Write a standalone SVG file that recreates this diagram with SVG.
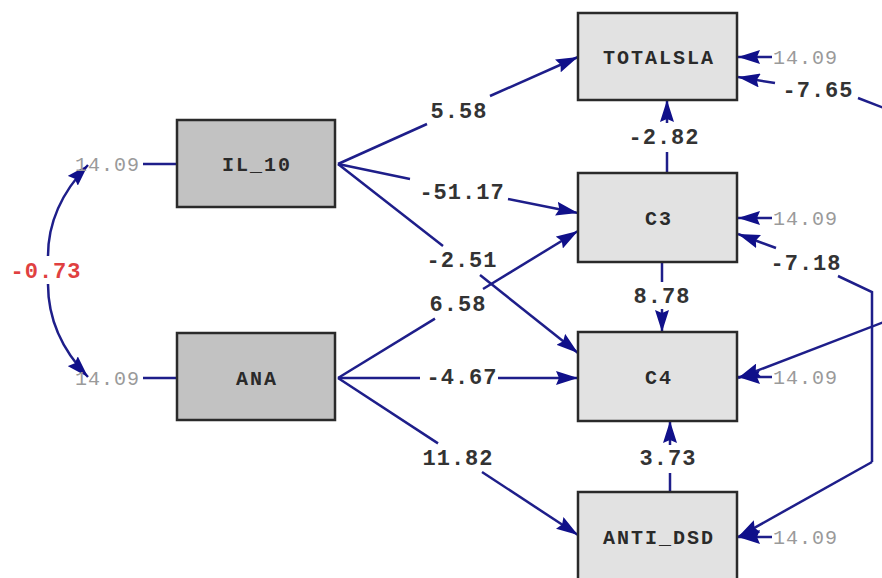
<svg xmlns="http://www.w3.org/2000/svg" width="882" height="578" viewBox="0 0 882 578">
<style>
.ln{fill:none;stroke:#1e1e8a;stroke-width:2.5}
.arr{marker-end:url(#ah)}
.bx{stroke:#2a2a2a;stroke-width:2.5}
.exo{fill:#c2c2c2}
.endo{fill:#e2e2e2}
.nl{font-family:"Liberation Mono","Courier New",monospace;font-weight:bold;font-size:20px;letter-spacing:2px;fill:#2a2a2a;text-anchor:middle}
.pl{font-family:"Liberation Mono","Courier New",monospace;font-weight:bold;font-size:22px;letter-spacing:1px;fill:#333;text-anchor:middle}
.ev{font-family:"Liberation Mono","Courier New",monospace;font-size:20px;letter-spacing:1px;fill:#9a9a9a}
.red{fill:#e04040}
</style>
<defs>
<marker id="ah" viewBox="0 0 22 14" refX="22" refY="7" markerWidth="22" markerHeight="14" markerUnits="userSpaceOnUse" orient="auto">
<path d="M0,0 L22,7 L0,14 L3,7 Z" fill="#10108a"/>
</marker>
</defs>
<rect width="882" height="578" fill="#fff"/>
<g id="connectors">
<line class="ln" x1="143" y1="164" x2="177" y2="164"/>
<line class="ln" x1="143" y1="378" x2="177" y2="378"/>
<path class="ln arr" d="M48 256 C48 222 62 192 88 165"/>
<path class="ln arr" d="M48 284 C48 318 62 350 88 377"/>
<line class="ln" x1="338" y1="164" x2="427" y2="124"/>
<line class="ln arr" x1="490" y1="96" x2="578" y2="57"/>
<line class="ln" x1="338" y1="164" x2="410" y2="179"/>
<line class="ln arr" x1="508" y1="199" x2="578" y2="213"/>
<line class="ln" x1="338" y1="164" x2="443" y2="246"/>
<line class="ln arr" x1="480" y1="275" x2="578" y2="353"/>
<line class="ln" x1="338" y1="378" x2="435" y2="318.6"/>
<line class="ln arr" x1="483" y1="289" x2="578" y2="231"/>
<line class="ln" x1="338" y1="378" x2="420" y2="378"/>
<line class="ln arr" x1="498" y1="378" x2="578" y2="378"/>
<line class="ln" x1="338" y1="378" x2="438" y2="443.4"/>
<line class="ln arr" x1="482" y1="472" x2="578" y2="535"/>
<line class="ln" x1="667" y1="173" x2="667" y2="152"/>
<line class="ln arr" x1="667" y1="123" x2="667" y2="100"/>
<line class="ln" x1="662" y1="262" x2="662" y2="282"/>
<line class="ln arr" x1="662" y1="309" x2="662" y2="332"/>
<line class="ln" x1="670" y1="492" x2="670" y2="473"/>
<line class="ln arr" x1="670" y1="445" x2="670" y2="421"/>
<line class="ln arr" x1="772" y1="57" x2="738" y2="57"/>
<line class="ln arr" x1="772" y1="218" x2="738" y2="218"/>
<line class="ln arr" x1="772" y1="377" x2="738" y2="377"/>
<line class="ln arr" x1="772" y1="537" x2="738" y2="537"/>
<line class="ln arr" x1="775" y1="83" x2="738" y2="77"/>
<line class="ln" x1="858" y1="98" x2="884" y2="108"/>
<line class="ln arr" x1="776" y1="248" x2="738" y2="234"/>
<polyline class="ln" points="838,276 872,292 872,462"/>
<line class="ln arr" x1="872" y1="462" x2="738" y2="537"/>
<line class="ln arr" x1="884" y1="322" x2="738" y2="378"/>
</g>
<g id="node-IL_10">
<rect class="bx exo" x="177" y="120" width="158" height="87"/>
<text class="nl" x="257" y="171">IL_10</text>
<text class="ev" x="75" y="171">14.09</text>
</g>
<g id="node-ANA">
<rect class="bx exo" x="177" y="333" width="158" height="87"/>
<text class="nl" x="257" y="385">ANA</text>
<text class="ev" x="75" y="385">14.09</text>
</g>
<g id="node-TOTALSLA">
<rect class="bx endo" x="578" y="13" width="159" height="87"/>
<text class="nl" x="659" y="64">TOTALSLA</text>
<text class="ev" x="773" y="64">14.09</text>
</g>
<g id="node-C3">
<rect class="bx endo" x="578" y="173" width="159" height="89"/>
<text class="nl" x="659" y="225">C3</text>
<text class="ev" x="773" y="225">14.09</text>
</g>
<g id="node-C4">
<rect class="bx endo" x="578" y="332" width="159" height="89"/>
<text class="nl" x="659" y="384">C4</text>
<text class="ev" x="773" y="384">14.09</text>
</g>
<g id="node-ANTI_DSD">
<rect class="bx endo" x="578" y="492" width="159" height="89"/>
<text class="nl" x="659" y="544">ANTI_DSD</text>
<text class="ev" x="773" y="544">14.09</text>
</g>
<g id="labels">
<text class="pl red" x="46" y="278">-0.73</text>
<text class="pl" x="459" y="118">5.58</text>
<text class="pl" x="462" y="199">-51.17</text>
<text class="pl" x="462" y="267">-2.51</text>
<text class="pl" x="458" y="311">6.58</text>
<text class="pl" x="462" y="384">-4.67</text>
<text class="pl" x="458" y="465">11.82</text>
<text class="pl" x="664" y="144">-2.82</text>
<text class="pl" x="662" y="303">8.78</text>
<text class="pl" x="668" y="465">3.73</text>
<text class="pl" x="818" y="97">-7.65</text>
<text class="pl" x="806" y="270">-7.18</text>
</g>
</svg>
